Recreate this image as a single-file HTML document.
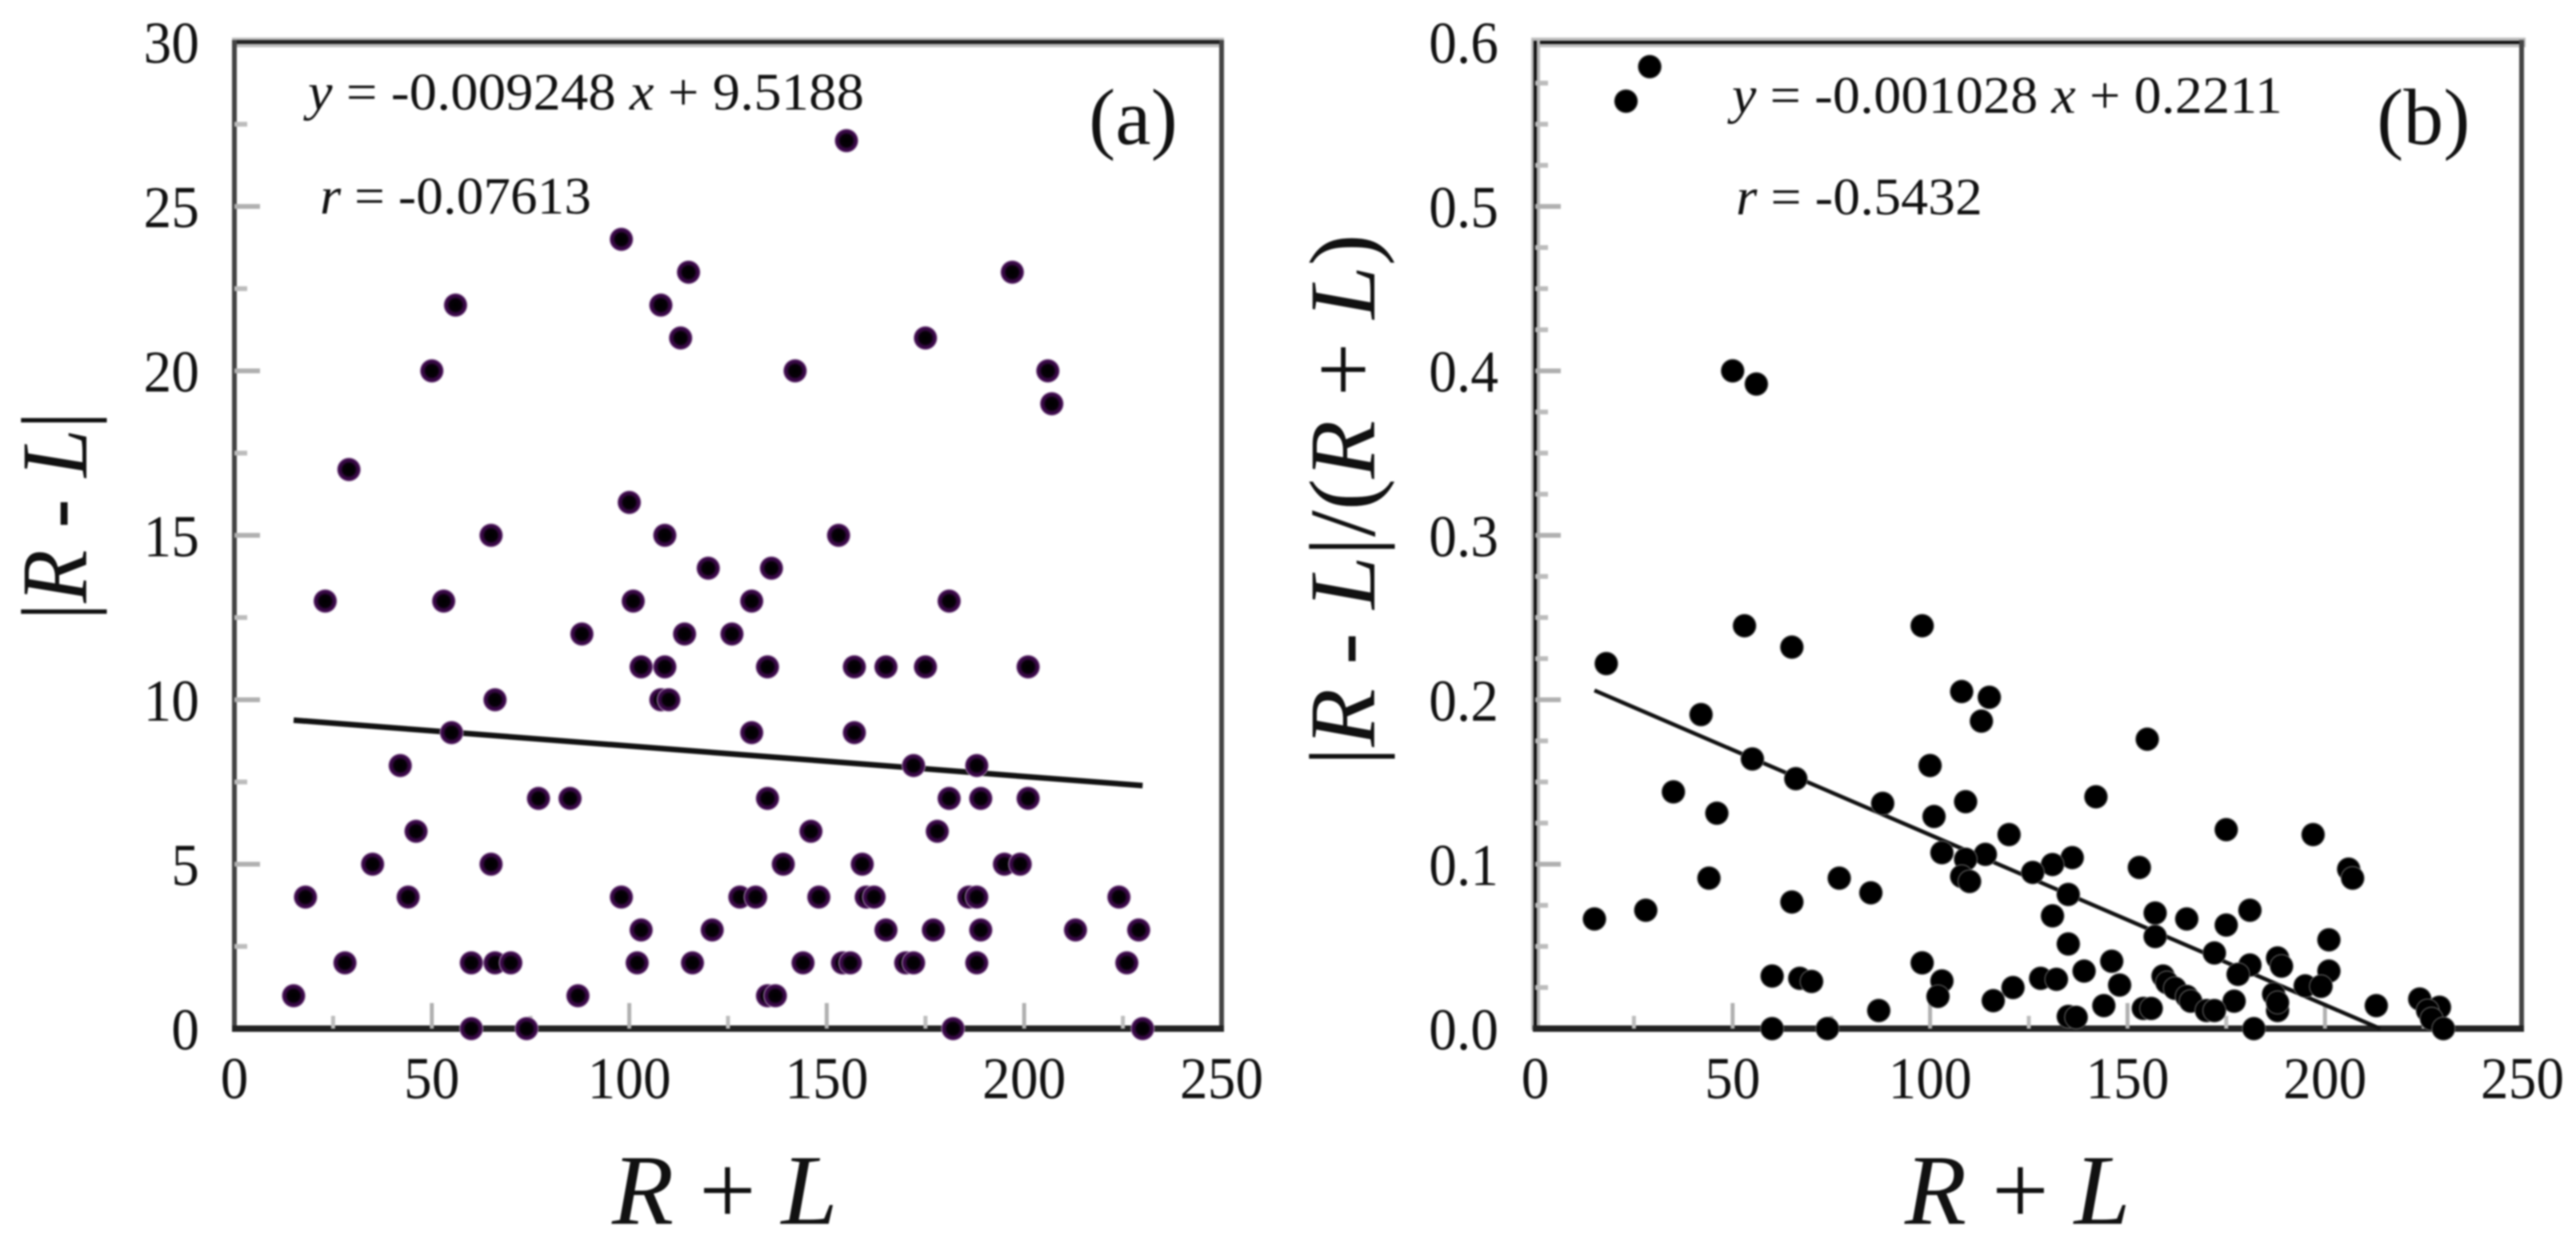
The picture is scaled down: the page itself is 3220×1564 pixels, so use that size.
<!DOCTYPE html>
<html lang="en">
<head>
<meta charset="utf-8">
<title>R + L scatter plots</title>
<style>
html,body{margin:0;padding:0;background:#fff;}
body{width:3220px;height:1564px;overflow:hidden;}
svg{display:block;filter:blur(1px);font-family:"Liberation Serif",serif;fill:#111;}
</style>
</head>
<body>
<svg id="figure" xmlns="http://www.w3.org/2000/svg" width="3220" height="1564" viewBox="0 0 3220 1564">
  <defs>
    <radialGradient id="purpleDot">
      <stop offset="0" stop-color="#000"/>
      <stop offset="0.5" stop-color="#060008"/>
      <stop offset="0.68" stop-color="#33083f"/>
      <stop offset="0.88" stop-color="#3f0a4e"/>
      <stop offset="1" stop-color="#c9b4ce"/>
    </radialGradient>
    <radialGradient id="blackDot">
      <stop offset="0" stop-color="#000"/>
      <stop offset="0.88" stop-color="#000"/>
      <stop offset="1" stop-color="#888"/>
    </radialGradient>
  </defs>

  <g id="panelA">
    <rect x="290" y="47" width="1240" height="12" fill="#bdbdbd"/>
    <rect x="290" y="50" width="1240" height="5" fill="#222"/>
    <rect x="290" y="50" width="6" height="1240" fill="#444"/>
    <rect x="1524" y="50" width="6" height="1240" fill="#444"/>
    <rect x="290" y="1282" width="1240" height="8" fill="#222"/>
    <text x="385" y="137" font-size="66" textLength="695" lengthAdjust="spacingAndGlyphs"><tspan font-style="italic">y</tspan> = -0.009248 <tspan font-style="italic">x</tspan> + 9.5188</text>
    <text x="400" y="267" font-size="66" textLength="339" lengthAdjust="spacingAndGlyphs"><tspan font-style="italic">r</tspan> = -0.07613</text>
    <text x="1361" y="180" font-size="100">(a)</text>
    <text transform="translate(108,645) rotate(-90)" text-anchor="middle" font-size="118" textLength="261" lengthAdjust="spacingAndGlyphs">|<tspan font-style="italic">R</tspan> - <tspan font-style="italic">L</tspan>|</text>
    <text x="906" y="1530" text-anchor="middle" font-size="125" textLength="282" lengthAdjust="spacingAndGlyphs"><tspan font-style="italic">R</tspan> + <tspan font-style="italic">L</tspan></text>
  </g>

  <g id="panelB">
    <rect x="1914" y="47" width="1243" height="12" fill="#bdbdbd"/>
    <rect x="1917" y="51" width="1238" height="4" fill="#111"/>
    <rect x="1914" y="50" width="11" height="1238" fill="#b5b5b5"/>
    <rect x="1917" y="51" width="4" height="1236" fill="#111"/>
    <rect x="3149" y="50" width="6" height="1240" fill="#444"/>
    <rect x="1916" y="1282" width="1239" height="8" fill="#222"/>
    <text x="2165" y="141" font-size="66" textLength="688" lengthAdjust="spacingAndGlyphs"><tspan font-style="italic">y</tspan> = -0.001028 <tspan font-style="italic">x</tspan> + 0.2211</text>
    <text x="2170" y="268" font-size="66" textLength="308" lengthAdjust="spacingAndGlyphs"><tspan font-style="italic">r</tspan> = -0.5432</text>
    <text x="2971" y="180" font-size="100">(b)</text>
    <text transform="translate(1718,625) rotate(-90)" text-anchor="middle" font-size="118" textLength="665" lengthAdjust="spacingAndGlyphs">|<tspan font-style="italic">R</tspan> - <tspan font-style="italic">L</tspan>|/(<tspan font-style="italic">R</tspan> + <tspan font-style="italic">L</tspan>)</text>
    <text x="2522" y="1530" text-anchor="middle" font-size="125" textLength="282" lengthAdjust="spacingAndGlyphs"><tspan font-style="italic">R</tspan> + <tspan font-style="italic">L</tspan></text>
  </g>
</svg>

<script>
const xTickValues = [0, 50, 100, 150, 200, 250];
const xTickLabels = ['0', '50', '100', '150', '200', '250'];
const xMinorTicks = [25, 75, 125, 175, 225];

const aYTickValues = [0, 5, 10, 15, 20, 25, 30];
const aYTickLabels = ['0', '5', '10', '15', '20', '25', '30'];
const aYMinorTicks = [2.5, 7.5, 12.5, 17.5, 22.5, 27.5];

const bYTickValues = [0, 0.1, 0.2, 0.3, 0.4, 0.5, 0.6];
const bYTickLabels = ['0.0', '0.1', '0.2', '0.3', '0.4', '0.5', '0.6'];
const bYMinorTicks = [0.025, 0.05, 0.075, 0.125, 0.15, 0.175, 0.225, 0.25, 0.275, 0.325, 0.35, 0.375, 0.425, 0.45, 0.475, 0.525, 0.55, 0.575];

const aX = [155,98,115,197,56,108,113,175,50,142,206,207,29,100,65,109,153,120,136,23,53,101,131,181,
  88,114,126,103,109,135,157,165,175,201,66,108,110,55,131,157,42,172,188,77,85,135,181,189,201,46,146,178,
  35,65,139,159,195,199,18,44,98,128,132,148,160,162,186,188,224,103,121,165,177,189,213,229,
  28,60,66,70,102,116,144,154,156,170,172,188,226,15,87,135,137,60,74,182,230];
const aY = [27,24,23,23,22,22,21,21,20,20,20,19,17,16,15,15,15,14,14,13,13,13,13,13,
  12,12,12,11,11,11,11,11,11,11,10,10,10,9,9,9,8,8,8,7,7,7,7,7,7,6,6,6,
  5,5,5,5,5,5,4,4,4,4,4,4,4,4,4,4,4,3,3,3,3,3,3,3,
  2,2,2,2,2,2,2,2,2,2,2,2,2,1,1,1,1,0,0,0,0];
const aTrendX = [15, 230];
const aTrendY = [9.38, 7.39];

const bX = [29,23,50,56,53,98,65,18,108,115,113,42,155,100,55,66,35,142,109,88,101,46,175,120,197,
  103,114,109,136,131,126,153,206,207,108,110,44,77,85,135,65,28,15,131,157,165,181,175,157,201,135,172,
  98,146,139,181,178,188,189,201,60,67,70,103,128,132,159,160,162,148,121,195,199,187,102,116,165,166,177,
  144,224,229,226,213,154,156,170,172,188,87,135,137,227,188,60,74,182,230];
const bY = [0.585,0.564,0.400,0.392,0.245,0.245,0.232,0.222,0.205,0.2015,0.187,0.191,0.176,0.160,0.164,0.152,0.144,0.141,0.138,0.137,0.129,0.131,0.121,0.118,0.118,
  0.107,0.106,0.103,0.104,0.0998,0.095,0.098,0.097,0.0915,0.0926,0.0895,0.0915,0.0915,0.0826,0.0816,0.077,0.072,0.0667,0.0686,0.0703,0.0667,0.072,0.063,0.056,0.054,0.0515,0.046,
  0.040,0.041,0.035,0.0387,0.033,0.043,0.038,0.035,0.032,0.0306,0.0287,0.029,0.0306,0.030,0.032,0.028,0.0245,0.0265,0.025,0.026,0.0257,0.021,0.0196,0.017,0.0196,0.0167,0.0167,
  0.014,0.018,0.013,0.011,0.014,0.0123,0.0123,0.011,0.011,0.011,0.011,0.0074,0.0069,0.006,0.0159,0,0,0,0];
const bTrendX = [15, 214];
const bTrendY = [0.2057, 0];

const NS = 'http://www.w3.org/2000/svg';
const xMax = 250;
const plotTop = 52.5;
const plotBottom = 1286;
const plotWidth = 1234;

function xScale(left, v) { return left + v / xMax * plotWidth; }
function yScale(yMax, v) { return plotBottom - v / yMax * (plotBottom - plotTop); }

function make(tag, attrs, parent) {
  const el = document.createElementNS(NS, tag);
  for (const k in attrs) el.setAttribute(k, attrs[k]);
  parent.appendChild(el);
  return el;
}

function tickLabel(parent, text, x, y, anchor) {
  const g = make('text', { transform: 'translate(' + x + ',' + y + ') scale(0.94,1)', 'text-anchor': anchor, 'font-size': 74 }, parent);
  g.textContent = text;
  return g;
}

function drawPanel(p) {
  const g = p.group;
  const X = v => xScale(p.left, v);
  const Y = v => yScale(p.yMax, v);

  p.yMajor.forEach((v, i) => {
    if (v !== 0 && v !== p.yMax) {
      const t = make('rect', { x: p.left, y: Y(v) - 3, width: 32, height: 6, fill: '#b0b0b0' }, g);
      
      
    }
    const l = tickLabel(g, p.yLabels[i], p.labelRight, Y(v) + 26, 'end');
    
    
  });
  p.yMinor.forEach(v => {
    const t = make('rect', { x: p.left, y: Y(v) - 3, width: 16, height: 6, fill: '#bcbcbc' }, g);
    
    
  });
  xTickValues.forEach((v, i) => {
    if (v !== 0 && v !== xMax) {
      const t = make('rect', { x: X(v) - 2.5, y: plotBottom - 32, width: 5, height: 32, fill: '#b0b0b0' }, g);
      
      
    }
    const l = tickLabel(g, xTickLabels[i], X(v), 1373, 'middle');
    
    
  });
  xMinorTicks.forEach(v => {
    const t = make('rect', { x: X(v) - 2.5, y: plotBottom - 16, width: 5, height: 16, fill: '#bcbcbc' }, g);
    
    
  });

  const line = make('line', {
    x1: X(p.trendX[0]), y1: Y(p.trendY[0]),
    x2: X(p.trendX[1]), y2: Y(p.trendY[1]),
    stroke: '#111', 'stroke-width': p.lineWidth
  }, g);
  
  

  p.xs.forEach((v, i) => {
    const c = make('circle', { cx: X(v), cy: Y(p.ys[i]), r: 15, fill: p.dotFill }, g);
    
    
  });
}

drawPanel({
  group: document.getElementById('panelA'),
  left: 293, yMax: 30, labelRight: 249,
  yMajor: aYTickValues, yLabels: aYTickLabels, yMinor: aYMinorTicks,
  xs: aX, ys: aY, trendX: aTrendX, trendY: aTrendY,
  lineWidth: 7, dotFill: 'url(#purpleDot)'
});
drawPanel({
  group: document.getElementById('panelB'),
  left: 1919, yMax: 0.6, labelRight: 1873,
  yMajor: bYTickValues, yLabels: bYTickLabels, yMinor: bYMinorTicks,
  xs: bX, ys: bY, trendX: bTrendX, trendY: bTrendY,
  lineWidth: 5, dotFill: 'url(#blackDot)'
});
</script>
</body>
</html>
